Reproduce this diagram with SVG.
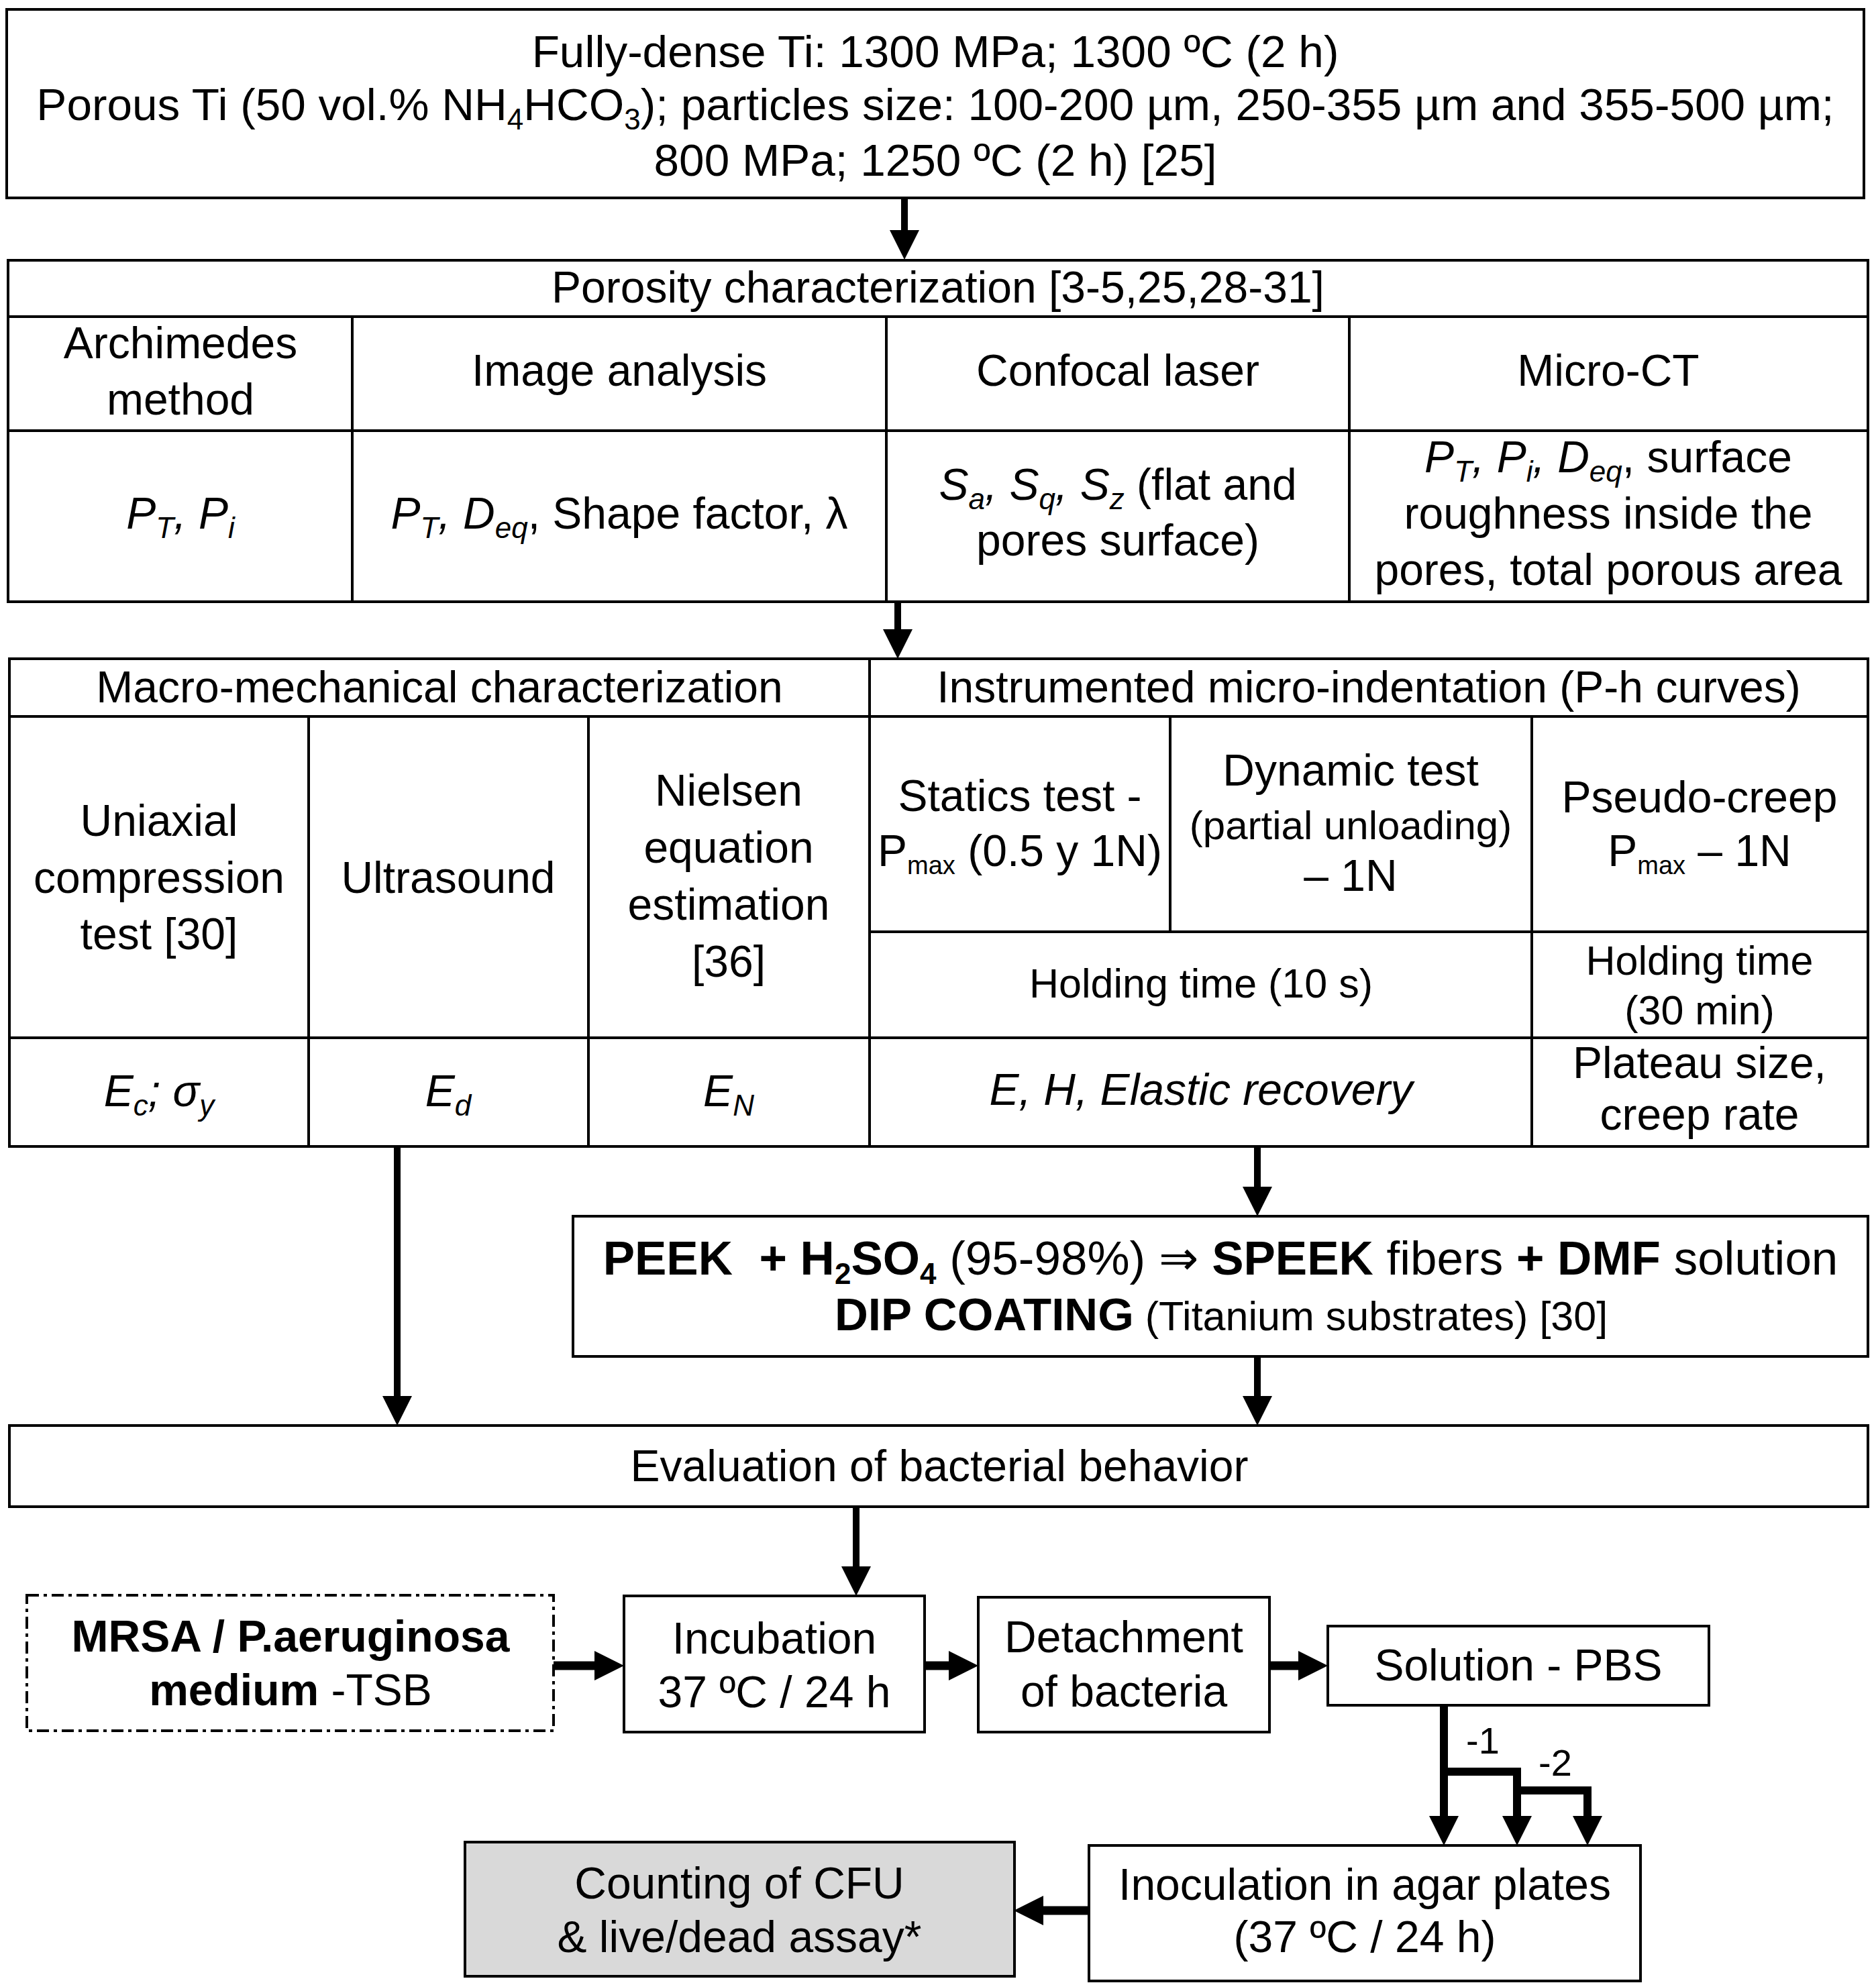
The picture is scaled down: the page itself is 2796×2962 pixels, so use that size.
<svg xmlns="http://www.w3.org/2000/svg" width="2796" height="2962" viewBox="0 0 2796 2962">
<defs>
<style>
.t{font-family:"Liberation Sans",Arial,"DejaVu Sans",sans-serif;font-size:66px;fill:#000;text-anchor:middle}
.big{font-size:67.5px}
.s{font-size:60px}
.h{font-size:61px}
.pk{font-size:71px}
.pk2{font-size:69px}
.i{font-style:italic}
.b{font-weight:bold}
.sub{font-size:44px}
.sm{font-size:38px}
.lbl{font-size:56px}
.box{fill:#fff;stroke:#000;stroke-width:4}
.grey{fill:#d9d9d9}
.dash{fill:#fff;stroke:#000;stroke-width:4;stroke-dasharray:18 7 5 7}
.grid{fill:none;stroke:#000;stroke-width:4}
.arr{fill:none;stroke:#000;stroke-width:10;marker-end:url(#ah)}
.arr2{fill:none;stroke:#000;stroke-width:13;marker-end:url(#ah)}
.br{fill:none;stroke:#000;stroke-width:12}
</style>
<marker id="ah" markerUnits="userSpaceOnUse" markerWidth="44" markerHeight="44" viewBox="0 -22 44 44" refX="0" refY="0" orient="auto">
<path d="M0,-22 L44,0 L0,22 Z" fill="#000"/>
</marker>
</defs>
<rect width="2796" height="2962" fill="#fff"/>

<g id="connectors">
<path class="arr" d="M1348,295 V343"/>
<path class="arr" d="M1338,897 V938"/>
<path class="arr" d="M592,1709 V2081"/>
<path class="arr" d="M1874,1709 V1769"/>
<path class="arr" d="M1874,2022 V2081"/>
<path class="arr" d="M1276,2246 V2335"/>
<path class="arr2" d="M825,2483 H886"/>
<path class="arr2" d="M1378,2483 H1414"/>
<path class="arr2" d="M1892,2483 H1935"/>
<path class="arr2" d="M1623,2848 H1555"/>
<path class="br" d="M2152,2542 V2707" marker-end="url(#ah)"/>
<path class="br" d="M2152,2641 H2261 V2707" marker-end="url(#ah)"/>
<path class="br" d="M2261,2669 H2366 V2707" marker-end="url(#ah)"/>
<text class="t lbl" x="2210" y="2614">-1</text>
<text class="t lbl" x="2318" y="2647">-2</text>
</g>

<g id="processing">
<rect class="box" x="10" y="14" width="2768" height="281"/>
<text class="t big" x="1394" y="100">Fully-dense Ti: 1300 MPa; 1300 ºC (2 h)</text>
<text class="t big" x="1394" y="179">Porous Ti (50 vol.% NH<tspan class="sub" dy="14">4</tspan><tspan dy="-14">HCO</tspan><tspan class="sub" dy="14">3</tspan><tspan dy="-14">); particles size: 100-200 µm, 250-355 µm and 355-500 µm;</tspan></text>
<text class="t big" x="1394" y="262">800 MPa; 1250 ºC (2 h) [25]</text>
</g>

<g id="porosity">
<rect class="box" x="12" y="388" width="2772" height="509"/>
<path class="grid" d="M12,472 H2784 M12,642 H2784 M525,472 V897 M1321,472 V897 M2011,472 V897"/>
<text class="t" x="1398" y="451">Porosity characterization [3-5,25,28-31]</text>
<text class="t" x="269" y="534">Archimedes</text>
<text class="t" x="269" y="618">method</text>
<text class="t" x="923" y="575">Image analysis</text>
<text class="t" x="1666" y="575">Confocal laser</text>
<text class="t" x="2397" y="575">Micro-CT</text>
<text class="t i" x="269" y="788">P<tspan class="sub" dy="14">T</tspan><tspan dy="-14">, P</tspan><tspan class="sub" dy="14">i</tspan></text>
<text class="t" x="923" y="788"><tspan class="i">P</tspan><tspan class="sub i" dy="14">T</tspan><tspan class="i" dy="-14">, D</tspan><tspan class="sub i" dy="14">eq</tspan><tspan dy="-14">, Shape factor, λ</tspan></text>
<text class="t" x="1666" y="745"><tspan class="i">S</tspan><tspan class="sub i" dy="14">a</tspan><tspan class="i" dy="-14">, S</tspan><tspan class="sub i" dy="14">q</tspan><tspan class="i" dy="-14">, S</tspan><tspan class="sub i" dy="14">z</tspan><tspan dy="-14"> (flat and</tspan></text>
<text class="t" x="1666" y="828">pores surface)</text>
<text class="t" x="2397" y="704"><tspan class="i">P</tspan><tspan class="sub i" dy="14">T</tspan><tspan class="i" dy="-14">, P</tspan><tspan class="sub i" dy="14">i</tspan><tspan class="i" dy="-14">, D</tspan><tspan class="sub i" dy="14">eq</tspan><tspan dy="-14">, surface</tspan></text>
<text class="t" x="2397" y="788">roughness inside the</text>
<text class="t" x="2397" y="872">pores, total porous area</text>
</g>

<g id="mechanical">
<rect class="box" x="14" y="982" width="2770" height="727"/>
<path class="grid" d="M14,1068 H2784 M14,1547 H2784 M1296,982 V1709 M460,1068 V1709 M877,1068 V1709 M1296,1389 H2784 M1744,1068 V1389 M2283,1068 V1709"/>
<text class="t" x="655" y="1047">Macro-mechanical characterization</text>
<text class="t" x="2040" y="1047">Instrumented micro-indentation (P-h curves)</text>
<text class="t" x="237" y="1246">Uniaxial</text>
<text class="t" x="237" y="1331">compression</text>
<text class="t" x="237" y="1415">test [30]</text>
<text class="t" x="668" y="1331">Ultrasound</text>
<text class="t" x="1086" y="1201">Nielsen</text>
<text class="t" x="1086" y="1286">equation</text>
<text class="t" x="1086" y="1371">estimation</text>
<text class="t" x="1086" y="1456">[36]</text>
<text class="t" x="1520" y="1209">Statics test -</text>
<text class="t" x="1520" y="1291">P<tspan class="sm" dy="12">max</tspan><tspan dy="-12"> (0.5 y 1N)</tspan></text>
<text class="t" x="2013" y="1171">Dynamic test</text>
<text class="t s" x="2013" y="1251">(partial unloading)</text>
<text class="t" x="2013" y="1328">– 1N</text>
<text class="t" x="2533" y="1211">Pseudo-creep</text>
<text class="t" x="2533" y="1291">P<tspan class="sm" dy="12">max</tspan><tspan dy="-12"> – 1N</tspan></text>
<text class="t h" x="1790" y="1487">Holding time (10 s)</text>
<text class="t h" x="2533" y="1453">Holding time</text>
<text class="t h" x="2533" y="1527">(30 min)</text>
<text class="t i" x="237" y="1649">E<tspan class="sub" dy="14">c</tspan><tspan dy="-14">; σ</tspan><tspan class="sub" dy="14">y</tspan></text>
<text class="t i" x="668" y="1649">E<tspan class="sub" dy="14">d</tspan></text>
<text class="t i" x="1086" y="1649">E<tspan class="sub" dy="14">N</tspan></text>
<text class="t i" x="1790" y="1647">E, H, Elastic recovery</text>
<text class="t" x="2533" y="1607">Plateau size,</text>
<text class="t" x="2533" y="1684">creep rate</text>
</g>

<g id="coating">
<rect class="box" x="854" y="1813" width="1930" height="209"/>
<text class="t pk" x="1819" y="1900" style="white-space:pre"><tspan class="b">PEEK  + H</tspan><tspan class="sub b" dy="14">2</tspan><tspan class="b" dy="-14">SO</tspan><tspan class="sub b" dy="14">4</tspan><tspan dy="-14"> (95-98%) ⇒ </tspan><tspan class="b">SPEEK</tspan><tspan> fibers </tspan><tspan class="b">+ DMF</tspan><tspan> solution</tspan></text>
<text class="t pk2" x="1820" y="1983"><tspan class="b">DIP COATING</tspan><tspan class="h"> (Titanium substrates) [30]</tspan></text>
</g>

<g id="evaluation">
<rect class="box" x="14" y="2125" width="2770" height="121"/>
<text class="t" x="1400" y="2208">Evaluation of bacterial behavior</text>
</g>

<g id="medium">
<rect class="dash" x="40" y="2378" width="785" height="202"/>
<text class="t b" x="433" y="2462">MRSA / P.aeruginosa</text>
<text class="t" x="433" y="2542"><tspan class="b">medium</tspan> -TSB</text>
</g>

<g id="incubation">
<rect class="box" x="930" y="2379" width="448" height="203"/>
<text class="t" x="1154" y="2465">Incubation</text>
<text class="t" x="1154" y="2545">37 ºC / 24 h</text>
</g>

<g id="detachment">
<rect class="box" x="1458" y="2381" width="434" height="201"/>
<text class="t" x="1675" y="2463">Detachment</text>
<text class="t" x="1675" y="2544">of bacteria</text>
</g>

<g id="solution">
<rect class="box" x="1979" y="2424" width="568" height="118"/>
<text class="t" x="2263" y="2505">Solution - PBS</text>
</g>

<g id="inoculation">
<rect class="box" x="1623" y="2751" width="822" height="202"/>
<text class="t" x="2034" y="2832">Inoculation in agar plates</text>
<text class="t" x="2034" y="2910">(37 ºC / 24 h)</text>
</g>

<g id="counting">
<rect class="box grey" x="693" y="2746" width="819" height="200"/>
<text class="t" x="1102" y="2830">Counting of CFU</text>
<text class="t" x="1102" y="2910">&amp; live/dead assay*</text>
</g>
</svg>
